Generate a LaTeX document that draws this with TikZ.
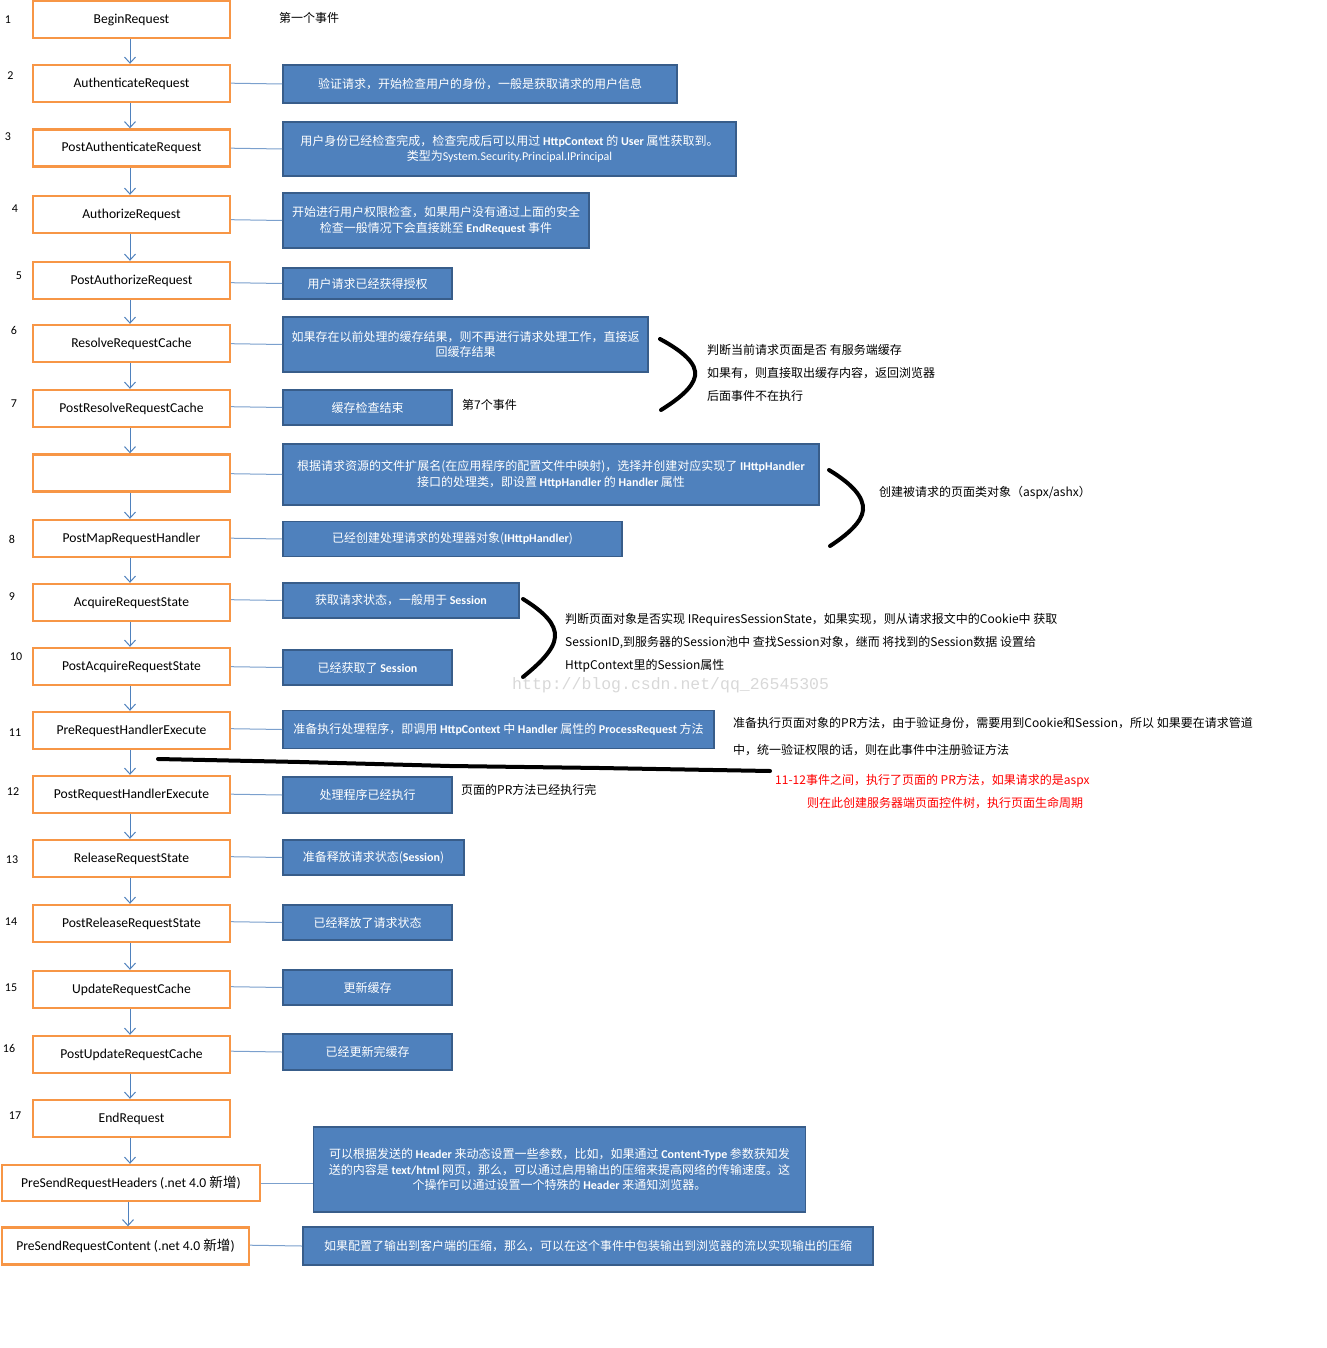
\documentclass[tikz,border=0pt]{standalone}
\usepackage{fontspec}
\setmainfont{Noto Sans CJK SC}
\newfontfamily\calfont{Carlito}
\newfontfamily\wmfont{Liberation Mono}
\usetikzlibrary{arrows.meta}
\definecolor{ob}{HTML}{F79646}
\definecolor{bf}{HTML}{4F81BD}
\definecolor{bd}{HTML}{385D8A}
\definecolor{ln}{HTML}{7BA0CD}
\definecolor{wmc}{HTML}{D8D8D8}
\newcommand{\latb}[1]{{\calfont\bfseries #1}}
\begin{document}
\begin{tikzpicture}[x=1pt,y=-1pt,
  obox/.style={draw=ob, line width=2.4pt, fill=white, minimum height=37pt, minimum width=197pt, inner sep=0pt, font=\calfont\fontsize{13.6}{15}\selectfont},
  bbox/.style={draw=bd, line width=1.6pt, fill=bf, text=white, inner sep=0pt, align=center, font=\fontsize{12}{15.5}\selectfont},
  arr/.style={draw=bf, line width=1pt, -{Straight Barb[length=6pt,width=11pt]}},
  conn/.style={draw=ln, line width=1pt},
  num/.style={inner sep=0pt, font=\calfont\fontsize{12}{14}\selectfont},
  note/.style={anchor=west, inner sep=0pt, font=\fontsize{12}{14}\selectfont},
  rednote/.style={note, text=red},
  bracepath/.style={line width=4pt, line cap=round},
]
\useasboundingbox (0,0) rectangle (1326,1348);

% orange event boxes
\node[obox] (o1) at (131.5,19.5) {BeginRequest};
\node[obox] (o2) at (131.5,83.5) {AuthenticateRequest};
\node[obox] (o3) at (131.5,148) {PostAuthenticateRequest};
\node[obox] (o4) at (131.5,214.5) {AuthorizeRequest};
\node[obox] (o5) at (131.5,280.5) {PostAuthorizeRequest};
\node[obox] (o6) at (131.5,343.5) {ResolveRequestCache};
\node[obox] (o7) at (131.5,408.5) {PostResolveRequestCache};
\node[obox] (o7b) at (131.5,473) {};
\node[obox] (o8) at (131.5,538.5) {PostMapRequestHandler};
\node[obox] (o9) at (131.5,602.5) {AcquireRequestState};
\node[obox] (o10) at (131.5,666.5) {PostAcquireRequestState};
\node[obox] (o11) at (131.5,730.5) {PreRequestHandlerExecute};
\node[obox] (o12) at (131.5,794.5) {PostRequestHandlerExecute};
\node[obox] (o13) at (131.5,858.5) {ReleaseRequestState};
\node[obox] (o14) at (131.5,923.5) {PostReleaseRequestState};
\node[obox] (o15) at (131.5,989.5) {UpdateRequestCache};
\node[obox] (o16) at (131.5,1054.5) {PostUpdateRequestCache};
\node[obox] (o17) at (131.5,1118.5) {EndRequest};
\node[obox, minimum width=258pt, minimum height=36pt] (o18) at (131,1183) {PreSendRequestHeaders (.net 4.0 {\rmfamily 新增})};
\node[obox, minimum width=247pt, minimum height=37pt] (o19) at (125.5,1246) {PreSendRequestContent (.net 4.0 {\rmfamily 新增})};

% numbers
\node[num] (n1) at (8,20) {1};
\node[num] (n2) at (10.5,76) {2};
\node[num] (n3) at (8,137) {3};
\node[num] (n4) at (15,209) {4};
\node[num] (n5) at (19,276) {5};
\node[num] (n6) at (14,330) {6};
\node[num] (n7) at (14,404) {7};
\node[num] (n8) at (12,539) {8};
\node[num] (n9) at (12,597) {9};
\node[num] (n10) at (16,657) {10};
\node[num] (n11) at (15,733) {11};
\node[num] (n12) at (13,792) {12};
\node[num] (n13) at (12,860) {13};
\node[num] (n14) at (11,922) {14};
\node[num] (n15) at (11,988) {15};
\node[num] (n16) at (9,1048) {16};
\node[num] (n17) at (15,1116) {17};

% arrows
\foreach \a/\b in {o1/o2,o2/o3,o3/o4,o4/o5,o5/o6,o6/o7,o7/o7b,o7b/o8,o8/o9,o9/o10,o10/o11,o11/o12,o12/o13,o13/o14,o14/o15,o15/o16,o16/o17,o17/o18}
  \draw[arr] ([xshift=-1.5pt]\a.south) -- ([xshift=-1.5pt]\a.south |- \b.north);
\draw[arr] ([xshift=-3pt]o18.south) -- ([xshift=-3pt]o18.south |- o19.north);

% blue description boxes
\node[bbox, minimum width=394pt, minimum height=38pt] (bA) at (480,84) {验证请求，开始检查用户的身份，一般是获取请求的用户信息};
\node[bbox, minimum width=453pt, minimum height=54pt] (bB) at (509.5,149) {用户身份已经检查完成，检查完成后可以用过 \latb{HttpContext} 的 \latb{User} 属性获取到。\\类型为{\calfont System.Security.Principal.IPrincipal}};
\node[bbox, minimum width=306pt, minimum height=55pt] (bC) at (436,220.5) {开始进行用户权限检查，如果用户没有通过上面的安全\\检查一般情况下会直接跳至 \latb{EndRequest} 事件};
\node[bbox, minimum width=169pt, minimum height=31pt] (bD) at (367.5,283.5) {用户请求已经获得授权};
\node[bbox, minimum width=365pt, minimum height=55pt] (bE) at (465.5,344.5) {如果存在以前处理的缓存结果，则不再进行请求处理工作，直接返\\回缓存结果};
\node[bbox, minimum width=169pt, minimum height=35pt] (bF) at (367.5,407.5) {缓存检查结束};
\node[bbox, minimum width=536pt, minimum height=61pt] (bG) at (551,474.5) {根据请求资源的文件扩展名(在应用程序的配置文件中映射)，选择并创建对应实现了 \latb{IHttpHandler}\\接口的处理类，即设置 \latb{HttpHandler} 的 \latb{Handler} 属性};
\node[bbox, minimum width=339pt, minimum height=35pt] (bH) at (452.5,539) {已经创建处理请求的处理器对象(\latb{IHttpHandler})};
\node[bbox, minimum width=236pt, minimum height=35pt] (bI) at (401,600.5) {获取请求状态，一般用于 \latb{Session}};
\node[bbox, minimum width=169pt, minimum height=35pt] (bJ) at (367.5,667.5) {已经获取了 \latb{Session}};
\node[bbox, minimum width=431pt, minimum height=38pt] (bK) at (498.5,729.5) {准备执行处理程序，即调用 \latb{HttpContext} 中 \latb{Handler} 属性的 \latb{ProcessRequest} 方法};
\node[bbox, minimum width=169pt, minimum height=36pt] (bL) at (367.5,795) {处理程序已经执行};
\node[bbox, minimum width=181pt, minimum height=35pt] (bM) at (373.5,857.5) {准备释放请求状态(\latb{Session})};
\node[bbox, minimum width=169pt, minimum height=35pt] (bN) at (367.5,922.5) {已经释放了请求状态};
\node[bbox, minimum width=169pt, minimum height=35pt] (bO) at (367.5,987.5) {更新缓存};
\node[bbox, minimum width=169pt, minimum height=36pt] (bP) at (367.5,1052) {已经更新完缓存};
\node[bbox, minimum width=492pt, minimum height=85pt] (bQ) at (559.5,1169.5) {可以根据发送的 \latb{Header} 来动态设置一些参数，比如，如果通过 \latb{Content-Type} 参数获知发\\送的内容是 \latb{text/html} 网页，那么，可以通过启用输出的压缩来提高网络的传输速度。这\\个操作可以通过设置一个特殊的 \latb{Header} 来通知浏览器。};
\node[bbox, minimum width=570pt, minimum height=38pt] (bR) at (588,1246) {如果配置了输出到客户端的压缩，那么，可以在这个事件中包装输出到浏览器的流以实现输出的压缩};

% connectors orange -> blue
\foreach \a/\b in {o2/bA,o3/bB,o4/bC,o5/bD,o6/bE,o7/bF,o7b/bG,o8/bH,o9/bI,o10/bJ,o11/bK,o12/bL,o13/bM,o14/bN,o15/bO,o16/bP,o19/bR}
  \draw[conn] ([yshift=0.8pt]\b.west -| \a.east) -- (\b.west);
\draw[conn] (o18.east) -- (o18.east -| bQ.west);

% side notes
\node[note] (t1) at (279,18) {第一个事件};
\node[note] (t7) at (462,405) {第7个事件};
\node[note] (c1a) at (707,350) {判断当前请求页面是否 有服务端缓存};
\node[note] (c1b) at (707,373) {如果有，则直接取出缓存内容，返回浏览器};
\node[note] (c1c) at (707,396) {后面事件不在执行};
\node[note] (c2) at (879,493) {创建被请求的页面类对象（aspx/ashx）};
\node[note] (c3a) at (565,620) {判断页面对象是否实现 IRequiresSessionState，如果实现，则从请求报文中的Cookie中 获取};
\node[note] (c3b) at (565,643) {SessionID,到服务器的Session池中 查找Session对象，继而 将找到的Session数据 设置给};
\node[note] (c3c) at (565,666) {HttpContext里的Session属性};
\node[note, text=wmc, font=\wmfont\fontsize{16.5}{18}\selectfont] (wm) at (512,685) {http://blog.csdn.net/qq\_26545305};
\node[note] (c4a) at (733,723) {准备执行页面对象的PR方法，由于验证身份，需要用到Cookie和Session，所以 如果要在请求管道};
\node[note] (c4b) at (733,750) {中，统一验证权限的话，则在此事件中注册验证方法};
\node[rednote] (r1) at (775,781) {11-12事件之间，执行了页面的 PR方法，如果请求的是aspx};
\node[rednote] (r2) at (807,803) {则在此创建服务器端页面控件树，执行页面生命周期};
\node[note] (t12) at (461,790) {页面的PR方法已经执行完};

% hand-drawn braces
\draw[bracepath] (660,339) .. controls (684,352) and (697,364) .. (695,376) .. controls (693,388) and (677,400) .. (661,410);
\draw[bracepath] (829,470) .. controls (852,484) and (864,497) .. (863,510) .. controls (862,522) and (847,535) .. (830,546);
\draw[bracepath] (523,599) .. controls (544,612) and (556,624) .. (555,637) .. controls (554,650) and (539,664) .. (523,677);

% thick divider line between 11 and 12
\draw[line width=4pt, line cap=round] (158,759) -- (300,762) -- (450,766) -- (600,768) -- (770,771);
\end{tikzpicture}
\end{document}
